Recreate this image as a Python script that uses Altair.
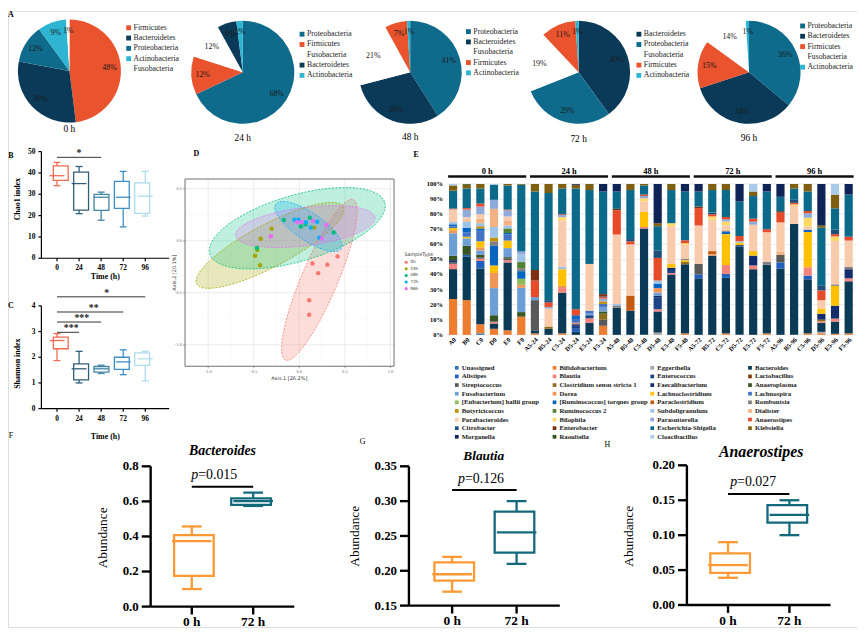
import math
import numpy as np
import pandas as pd
import altair as alt

SERIF = "Liberation Serif"
MARGIN = 8

# ============================ DATA ============================
# --- A: phylum pies
PIE_TITLES = ["0 h", "24 h", "48 h", "72 h", "96 h"]
PIE_ORDER = [
    ["Firmicutes", "Bacteroidetes", "Proteobacteria", "Actinobacteria", "Fusobacteria"],
    ["Proteobacteria", "Firmicutes", "Fusobacteria", "Bacteroidetes", "Actinobacteria"],
    ["Proteobacteria", "Bacteroidetes", "Fusobacteria", "Firmicutes", "Actinobacteria"],
    ["Bacteroidetes", "Proteobacteria", "Fusobacteria", "Firmicutes", "Actinobacteria"],
    ["Proteobacteria", "Bacteroidetes", "Firmicutes", "Fusobacteria", "Actinobacteria"],
]
PIE_PCT = [
    [48, 30, 12, 9, 1],
    [68, 12, 12, 6, 2],
    [41, 30, 21, 7, 1],
    [40, 29, 19, 11, 1],
    [36, 34, 15, 14, 1],
]
PHYLA = ["Firmicutes", "Bacteroidetes", "Proteobacteria", "Actinobacteria", "Fusobacteria"]
PHYLA_COLORS = ["#e9532d", "#0b3a58", "#0f6b8c", "#2fb4d2", "#ffffff"]

# --- B / C: alpha diversity
TIMES = [0, 24, 48, 72, 96]
CHAO_MIN = [34.0, 20.9, 17.8, 14.7, 19.8]
CHAO_Q1 = [36.5, 22.6, 22.4, 23.4, 21.0]
CHAO_MED = [38.7, 35.0, 28.6, 28.6, 29.1]
CHAO_Q3 = [43.3, 40.4, 29.9, 36.0, 35.3]
CHAO_MAX = [44.9, 43.0, 31.0, 40.7, 40.7]
SHAN_MIN = [1.87, 1.00, 1.37, 1.32, 1.08]
SHAN_Q1 = [2.33, 1.12, 1.42, 1.53, 1.68]
SHAN_MED = [2.65, 1.55, 1.55, 1.82, 1.94]
SHAN_Q3 = [2.78, 1.74, 1.64, 2.00, 2.17]
SHAN_MAX = [2.92, 2.23, 1.69, 2.29, 2.23]
BC_COLORS = ["#f26a4f", "#2e5f79", "#3f85a3", "#3c8ec6", "#aedcec"]
CHAO_SIG = {"x1": [0], "x2": [48], "y": [47.3], "star": ["*"], "sx": [24]}
SHAN_SIG = {"x1": [0, 0, 0, 0], "x2": [24, 48, 72, 96], "y": [2.97, 3.37, 3.76, 4.35],
            "star": ["***", "***", "**", "*"], "sx": [15.5, 27, 40, 54]}

# --- D: PCoA
D_GROUPS = ["0h", "24h", "48h", "72h", "96h"]
D_COLORS = ["#F8766D", "#A3A500", "#00BF7D", "#00B0F6", "#E76BF3"]
PC_X = {
    "0h": [0.42, 0.145, 0.308, 0.207, 0.109, 0.109],
    "24h": [-0.304, -0.424, 0.163, -0.486, -0.431, -0.46],
    "48h": [-0.464, -0.170, 0.018, 0.377, 0.116, 0.069],
    "72h": [-0.054, -0.011, 0.072, 0.127, 0.196, 0.221],
    "96h": [-0.025, 0.025, 0.152, 0.297, 0.246, -0.312],
}
PC_Y = {
    "0h": [-0.15, -0.219, -0.229, -0.311, -0.571, -0.711],
    "24h": [0.117, 0.019, 0.127, -0.143, -0.235, -0.089],
    "48h": [-0.070, 0.200, 0.137, 0.079, 0.222, 0.159],
    "72h": [0.203, 0.203, 0.178, 0.127, 0.184, 0.029],
    "96h": [0.181, 0.181, 0.190, 0.152, 0.022, 0.044],
}
# confidence ellipses: centre and two conjugate semi-axes (data units)
ELL_C = [(0.221, -0.375), (-0.322, -0.044), (-0.022, 0.121), (0.101, 0.137), (0.065, 0.137)]
ELL_U = [(0.373, 0.771), (0.804, 0.371), (0.96, 0.246), (0.359, -0.214), (0.764, 0.087)]
ELL_V = [(0.183, -0.068), (0.109, -0.181), (0.101, -0.305), (-0.0855, -0.110), (0.027, -0.182)]

# --- E: genus composition
GENERA = ["Unassigned", "Bifidobacterium", "Eggerthella", "Bacteroides", "Alistipes", "Blautia",
          "Enterococcus", "Lactobacillus", "Streptococcus", "Clostridium sensu stricto 1",
          "Faecalibacterium", "Anaeroplasma", "Fusobacterium", "Dorea", "Lachnoclostridium",
          "Lachnospira", "[Eubacterium] hallii group", "[Ruminococcus] torques group",
          "Paraclostridium", "Romboutsia", "Butyricicoccus", "Ruminococcus 2", "Subdoligranulum",
          "Dialister", "Parabacteroides", "Bilophila", "Parasutterella", "Anaerostipes",
          "Citrobacter", "Enterobacter", "Escherichia-Shigella", "Klebsiella", "Morganella",
          "Raoultella", "Cloacibacillus"]
CODES = ["UN", "BI", "EG", "BA", "AL", "BL", "EN", "LA", "ST", "CL", "FA", "AP", "FU", "DO", "LC",
         "LS", "EU", "RT", "PC", "RO", "BU", "R2", "SU", "DI", "PB", "BP", "PS", "AN", "CI", "EB",
         "ES", "KL", "MO", "RA", "CB"]
GEN_COLORS = ["#2e75b6", "#ed7d31", "#a5a5a5", "#0b3a56", "#1f5fbf", "#f4837d", "#1c4587",
              "#843c0c", "#595959", "#8c6d1f", "#132c6b", "#375623", "#6d9fd6", "#f0955a",
              "#ffc000", "#4472c4", "#8fbc5a", "#0563c1", "#c55a11", "#7f7f7f", "#bf9000",
              "#548235", "#9dc3e6", "#f4b183", "#f8cbad", "#ffd966", "#8eaadb", "#e84b2a",
              "#1f4e79", "#7b3012", "#0b6a8a", "#7f5f12", "#0e2356", "#2d5016", "#a9cbe8"]

COMP_0H = {
    "A0": {"BI": 24, "BA": 20, "BL": 3.5, "ST": 1, "FA": 1.5, "AP": 3, "FU": 15, "DO": 2, "LC": 1.5,
           "RT": 1.5, "LS": 1, "SU": 1.5, "DI": 0.5, "PB": 8, "AN": 0.5, "ES": 12, "KL": 3.5, "CB": 1},
    "B0": {"BI": 23, "BA": 29, "AL": 1, "AP": 6, "FU": 5, "LC": 1, "LS": 3, "RT": 3, "SU": 4, "DI": 1,
           "PB": 2, "PS": 5, "AN": 1, "ES": 13, "KL": 2.5, "RA": 0.5},
    "C0": {"UN": 1, "BI": 6, "BA": 37, "AL": 5, "BL": 1.5, "ST": 1, "AP": 1.5, "FU": 3, "DO": 2,
           "LC": 4, "LS": 7, "RT": 1.5, "BU": 1.5, "SU": 2, "DI": 3, "PB": 3, "PS": 5, "AN": 2,
           "ES": 10, "KL": 3},
    "D0": {"BI": 4, "BA": 3.5, "BL": 1, "ST": 0.5, "AP": 4, "FU": 18, "DO": 10, "LC": 5, "RO": 3,
           "RT": 13, "BU": 2.5, "SU": 7, "DI": 12, "PS": 6, "ES": 10, "CB": 0.5},
    "E0": {"BI": 3, "BA": 45, "BL": 1.5, "ST": 1, "AP": 1, "FU": 6, "LC": 5, "LS": 4, "RT": 1,
           "R2": 3, "SU": 2, "DI": 3, "PB": 3, "PS": 4, "AN": 0.5, "ES": 16, "KL": 1},
    "F0": {"BI": 12, "AP": 3, "FU": 16, "DO": 2, "RO": 2, "EU": 4, "RT": 5, "R2": 4, "SU": 5,
           "PS": 2, "ES": 44, "KL": 0.5},
}
COMP_24H = {
    "A5-24": {"BI": 1, "BA": 2, "ST": 20, "FU": 2, "AN": 11, "EB": 7, "ES": 52, "KL": 5},
    "B5-24": {"BA": 4, "CL": 1.5, "PB": 12, "PS": 1, "AN": 3, "CI": 1.5, "ES": 71, "KL": 6},
    "C5-24": {"BI": 1, "BA": 27, "BL": 3, "DO": 1.5, "LC": 11, "SU": 1.5, "PB": 31, "BP": 2,
              "PS": 1.5, "AN": 0.5, "ES": 17, "KL": 3},
    "D5-24": {"BA": 2, "AL": 2, "DO": 1, "EN": 2, "RT": 3, "FA": 1, "LS": 2, "AN": 4, "ES": 80,
              "KL": 2.5, "MO": 0.5},
    "E5-24": {"BA": 8, "BL": 3, "EN": 2, "FU": 1.5, "LS": 1.5, "PB": 31, "ES": 49, "KL": 4},
    "F5-24": {"BI": 6, "ST": 4, "CL": 4, "AP": 1.5, "FU": 3, "LS": 2, "PS": 2, "BU": 1.5, "AN": 1,
              "CI": 0.5, "EB": 1.5, "ES": 68, "MO": 5},
}
COMP_48H = {
    "A5-48": {"BA": 18, "RO": 1.5, "SU": 1, "PB": 46, "AN": 16, "EB": 1, "ES": 11.5, "MO": 5},
    "B5-48": {"BA": 16, "PC": 10, "PB": 34, "AN": 2, "CI": 1.5, "ES": 32.5, "KL": 4},
    "C5-48": {"BA": 70.5, "BL": 1, "LC": 10, "PB": 7, "BP": 2, "PS": 1.5, "AN": 1, "ES": 6, "KL": 1},
    "D5-48": {"EG": 1.5, "BA": 14, "BL": 1.5, "EN": 8, "FA": 1, "FU": 2, "DO": 3, "RT": 3, "SU": 2,
              "AN": 15, "CI": 5, "ES": 16, "KL": 2, "MO": 26},
    "E5-48": {"BA": 40, "BL": 1, "EN": 2, "FA": 1.5, "LC": 2.5, "PB": 25, "BP": 2, "ES": 22, "KL": 4},
    "F5-48": {"BI": 1, "BA": 46, "CL": 1.5, "RO": 1, "LC": 1, "PB": 9.5, "BP": 1, "AN": 2,
              "ES": 32.5, "MO": 5},
}
COMP_72H = {
    "A5-72": {"BA": 37.5, "AL": 2.5, "ST": 7, "PB": 25.5, "AN": 11.5, "EB": 1, "ES": 10, "MO": 5},
    "B5-72": {"BA": 52.5, "PC": 2, "DO": 1, "PB": 21, "BP": 2, "AN": 1.5, "CI": 1, "ES": 15, "KL": 4},
    "C5-72": {"BI": 1, "BA": 37, "AL": 2.5, "BL": 6, "RT": 2, "LC": 20.5, "DI": 1, "PB": 3, "BP": 2.5,
              "PS": 1.5, "AN": 1.5, "ES": 18, "KL": 4},
    "D5-72": {"BA": 58.5, "EN": 1, "LC": 1.5, "SU": 1, "AN": 3.5, "ES": 23, "MO": 11.5},
    "E5-72": {"BA": 43.5, "BL": 2.5, "FA": 6.5, "LC": 3, "PB": 17.5, "PS": 2, "AN": 2, "ES": 15,
              "KL": 3, "CB": 5},
    "F5-72": {"BI": 1, "BA": 45.5, "RO": 2, "PB": 19.5, "AN": 2, "ES": 25, "MO": 5},
}
COMP_96H = {
    "A5-96": {"BA": 44, "AL": 4, "ST": 5, "DI": 2, "PB": 19.5, "AN": 6.5, "EB": 1, "ES": 9.5, "MO": 8.5},
    "B5-96": {"BA": 73.5, "PB": 12, "BP": 1, "AN": 1, "CI": 2, "ES": 7.5, "KL": 3},
    "C5-96": {"BI": 1, "BA": 36, "AL": 2.5, "BL": 5.5, "RT": 1.5, "LC": 23.5, "PB": 2, "BP": 6,
              "PS": 3, "AN": 1.5, "ES": 13, "KL": 5},
    "D5-96": {"BI": 1, "EG": 1, "BA": 6, "BL": 1, "FA": 4, "CL": 1, "LC": 3.5, "PB": 5.5, "AN": 6.5,
              "CI": 3, "ES": 38.5, "KL": 1.5, "MO": 27.5},
    "E5-96": {"BI": 0.7, "BA": 8, "BL": 2, "FA": 8.5, "LC": 13, "RO": 1, "PB": 28.5, "BP": 3,
              "AN": 1.5, "CI": 3, "ES": 14, "KL": 9, "CB": 7},
    "F5-96": {"BI": 1, "BA": 34.5, "BL": 2, "FA": 6, "RO": 1.5, "PB": 17.5, "AN": 2.5, "ES": 28, "MO": 7},
}
E_GROUPS = ["0 h", "24 h", "48 h", "72 h", "96 h"]
E_COMPS = [COMP_0H, COMP_24H, COMP_48H, COMP_72H, COMP_96H]

# --- F / G / H: genus abundance boxes  [min, q1, median, q3, max]
FGH_TITLES = ["Bacteroides", "Blautia", "Anaerostipes"]
FGH_GROUPS = ["0 h", "72 h"]
FGH_STATS = [
    [[0.100, 0.175, 0.373, 0.407, 0.457], [0.574, 0.580, 0.602, 0.617, 0.650]],
    [[0.170, 0.186, 0.195, 0.212, 0.220], [0.210, 0.226, 0.255, 0.285, 0.300]],
    [[0.039, 0.046, 0.057, 0.074, 0.090], [0.100, 0.118, 0.129, 0.143, 0.150]],
]
FGH_P = ["=0.015", "=0.126", "=0.027"]
FGH_PLINE = [0.684, 0.316, 0.159]
FGH_TICKS = [[0.0, 0.2, 0.4, 0.6, 0.8], [0.15, 0.20, 0.25, 0.30, 0.35], [0.00, 0.05, 0.10, 0.15, 0.20]]
FGH_TICKLAB = [["0.0", "0.2", "0.4", "0.6", "0.8"], ["0.15", "0.20", "0.25", "0.30", "0.35"],
               ["0.00", "0.05", "0.10", "0.15", "0.20"]]
FGH_COLORS = ["#ff9933", "#13697c"]


# ============================ HELPERS ============================
def P(v):
    return v - MARGIN


def qs(domain, r0, r1):
    return alt.Scale(domain=list(domain), range=[P(r0), P(r1)], nice=False, zero=False)


def fx(field, sc):
    return alt.X(field, scale=sc, axis=None)


def fy(field, sc, **kw):
    return alt.Y(field, scale=sc, axis=None, **kw)


def dx_(v, sc):
    return alt.XDatum(v, type="quantitative", scale=sc, axis=None)


def dy_(v, sc):
    return alt.YDatum(v, type="quantitative", scale=sc, axis=None)


ONE = pd.DataFrame({"k": [0]})


def note(text, x, y, xs, ys, **kw):
    kw.setdefault("font", SERIF)
    kw.setdefault("color", "black")
    return alt.Chart(ONE).mark_text(text=text, **kw).encode(x=dx_(x, xs), y=dy_(y, ys))


def vline(x, y0, y1, xs, ys, **kw):
    return alt.Chart(ONE).mark_rule(**kw).encode(x=dx_(x, xs), y=dy_(y0, ys), y2=alt.Y2Datum(y1))


def hline(y, x0, x1, xs, ys, **kw):
    return alt.Chart(ONE).mark_rule(**kw).encode(y=dy_(y, ys), x=dx_(x0, xs), x2=alt.X2Datum(x1))


def left_axis(xs, ys, x0, ticks, labels, sw, tlen, size, gap, color="black", weight="bold", line=True):
    d = pd.DataFrame({"v": ticks, "lab": labels})
    out = []
    if line:
        out.append(vline(x0, ticks[0], ticks[-1], xs, ys, color=color, strokeWidth=sw))
    out.append(alt.Chart(d).mark_rule(color=color, strokeWidth=sw, x2Offset=-tlen).encode(
        x=dx_(x0, xs), x2=alt.X2Datum(x0), y=fy("v:Q", ys)))
    out.append(alt.Chart(d).mark_text(font=SERIF, fontSize=size, fontWeight=weight, align="right",
                                      baseline="middle", dx=-gap, color=color).encode(
        x=dx_(x0, xs), y=fy("v:Q", ys), text="lab:N"))
    return out


def bottom_axis(xs, ys, y0, x0, x1, ticks, labels, sw, tlen, size, gap, color="black",
                weight="bold", line=True, baseline="top"):
    d = pd.DataFrame({"v": ticks, "lab": labels})
    out = []
    if line:
        out.append(hline(y0, x0, x1, xs, ys, color=color, strokeWidth=sw))
    out.append(alt.Chart(d).mark_rule(color=color, strokeWidth=sw, y2Offset=tlen).encode(
        y=dy_(y0, ys), y2=alt.Y2Datum(y0), x=fx("v:Q", xs)))
    out.append(alt.Chart(d).mark_text(font=SERIF, fontSize=size, fontWeight=weight, align="center",
                                      baseline=baseline, dy=gap, color=color).encode(
        y=dy_(y0, ys), x=fx("v:Q", xs), text="lab:N"))
    return out


def boxes(df, xs, ys, cs, box_w, cap_w, sw):
    b = alt.Chart(df)
    X = fx("x:Q", xs)
    col = alt.Color("g:N", scale=cs, legend=None)
    return [
        b.mark_rule(strokeWidth=sw, opacity=1).encode(x=X, y=fy("lo:Q", ys), y2="hi:Q", color=col),
        b.mark_bar(size=box_w, fill="white", strokeWidth=sw, opacity=1).encode(
            x=X, y=fy("q1:Q", ys), y2="q3:Q", stroke=alt.Stroke("g:N", scale=cs, legend=None)),
        b.mark_tick(orient="horizontal", size=box_w, thickness=sw, opacity=1).encode(
            x=X, y=fy("med:Q", ys), color=col),
        b.mark_tick(orient="horizontal", size=cap_w, thickness=sw, opacity=1).encode(
            x=X, y=fy("lo:Q", ys), color=col),
        b.mark_tick(orient="horizontal", size=cap_w, thickness=sw, opacity=1).encode(
            x=X, y=fy("hi:Q", ys), color=col),
    ]


layers = []

# ============================ A: pies ============================
PIE_CX = [70, 245, 414, 584, 756]
PIE_CY = [68.7, 70, 70, 70, 70]
PIE_R = 52
PIE_LEG_X = [1.15, 1.15, 1.13, 1.17, 1.04]
PIE_LEG_TOP = [0.84, 0.74, 0.79, 0.74, 0.90]
PIE_TITLE_Y = [-1.12, -1.28, -1.25, -1.30, -1.27]

for i in range(5):
    cx, cy, r = PIE_CX[i], PIE_CY[i], PIE_R
    xs = qs([-1, 1], cx - r, cx + r)
    ys = qs([-1, 1], cy + r, cy - r)
    cs = alt.Scale(domain=PHYLA, range=PHYLA_COLORS)
    df = pd.DataFrame({"phylum": PIE_ORDER[i], "pct": PIE_PCT[i], "ord": list(range(5))})
    base = alt.Chart(df)
    layers.append(base.mark_arc(radius=r, opacity=1).encode(
        theta=alt.Theta("pct:Q", stack=True),
        color=alt.Color("phylum:N", scale=cs, legend=None),
        order=alt.Order("ord:Q", sort="ascending"),
        x=dx_(0, xs), y=dy_(0, ys)))
    layers.append(
        base.transform_window(cum="sum(pct)", sort=[alt.SortField("ord", order="ascending")],
                              frame=[None, 0])
        .transform_joinaggregate(tot="sum(pct)")
        .transform_calculate(mid="2*PI*(datum.cum - datum.pct/2)/datum.tot",
                             lx="0.78*sin(datum.mid)", ly="0.78*cos(datum.mid)",
                             lab="datum.pct + '%'")
        .mark_text(font=SERIF, fontSize=8, color="#1a1a1a")
        .encode(x=fx("lx:Q", xs), y=fy("ly:Q", ys), text="lab:N"))
    leg = base.transform_calculate(ly=f"{PIE_LEG_TOP[i]} - 0.2*datum.ord")
    layers.append(leg.mark_square(size=24, opacity=1).encode(
        x=dx_(PIE_LEG_X[i], xs), y=fy("ly:Q", ys), color=alt.Color("phylum:N", scale=cs, legend=None)))
    layers.append(leg.mark_text(font=SERIF, fontSize=7.8, align="left", baseline="middle", dx=5,
                                color="#222222").encode(x=dx_(PIE_LEG_X[i], xs), y=fy("ly:Q", ys),
                                                        text="phylum:N"))
    layers.append(note(PIE_TITLES[i], 0, PIE_TITLE_Y[i], xs, ys, fontSize=9.5, baseline="middle"))
    if i == 0:
        layers.append(note("A", -1.135, 1.09, xs, ys, fontSize=8, fontWeight="bold", baseline="middle"))

# ============================ B / C ============================
xs_bc = qs([-17, 122], 41.7, 170.7)
ys_b = qs([0, 50], 257.7, 150)
ys_c = qs([0, 4], 409.5, 305.7)
cs_bc = alt.Scale(domain=[str(t) for t in TIMES], range=BC_COLORS)

for ys, lo, q1, med, q3, hi, ticks, sig, ytitle, ytitle_y, xtitle_y, letter, letter_y in [
    (ys_b, CHAO_MIN, CHAO_Q1, CHAO_MED, CHAO_Q3, CHAO_MAX, [0, 10, 20, 30, 40, 50], CHAO_SIG,
     "Chao1 index", 27.7, -8.6, "B", 47.7),
    (ys_c, SHAN_MIN, SHAN_Q1, SHAN_MED, SHAN_Q3, SHAN_MAX, [0, 1, 2, 3, 4], SHAN_SIG,
     "Shannon index", 1.75, -1.12, "C", 3.98),
]:
    df = pd.DataFrame({"x": TIMES, "lo": lo, "q1": q1, "med": med, "q3": q3, "hi": hi,
                       "g": [str(t) for t in TIMES]})
    layers += boxes(df, xs_bc, ys, cs_bc, 15, 7, 1.3)
    layers += left_axis(xs_bc, ys, -17, ticks, [str(t) for t in ticks], 1.2, 3, 7.5, 6)
    layers += bottom_axis(xs_bc, ys, 0, -17, 122, TIMES, [str(t) for t in TIMES], 1.2, 3, 7.5, 6)
    sd = pd.DataFrame(sig)
    layers.append(alt.Chart(sd).mark_rule(color="#333333", strokeWidth=1).encode(
        x=fx("x1:Q", xs_bc), x2="x2:Q", y=fy("y:Q", ys)))
    layers.append(alt.Chart(sd).mark_text(font=SERIF, fontSize=10, fontWeight="bold",
                                          baseline="middle", dy=-4, color="#222222").encode(
        x=fx("sx:Q", xs_bc), y=fy("y:Q", ys), text="star:N"))
    layers.append(note(ytitle, -42.5, ytitle_y, xs_bc, ys, fontSize=8, fontWeight="bold",
                       angle=270, baseline="middle"))
    layers.append(note("Time (h)", 52.5, xtitle_y, xs_bc, ys, fontSize=8, fontWeight="bold",
                       baseline="middle"))
    layers.append(note(letter, -50.1, letter_y, xs_bc, ys, fontSize=8, fontWeight="bold",
                       baseline="middle"))

# ============================ D: PCoA ============================
XD = [-1.254, 1.04]
YD = [-1.206, 0.594]
xs_d = qs(XD, 186.7, 397.7)
ys_d = qs(YD, 366.7, 177.7)
cs_d = alt.Scale(domain=D_GROUPS, range=D_COLORS)
GRID_MAJ_X = [-1.0, -0.5, 0.0, 0.5, 1.0]
GRID_MAJ_Y = [-1.0, -0.5, 0.0, 0.5]
GRID_MIN_X = [-0.75, -0.25, 0.25, 0.75]
GRID_MIN_Y = [-0.75, -0.25, 0.25]

for vals, col, w in [(GRID_MIN_X, "#f2f2f2", 0.4), (GRID_MAJ_X, "#e3e3e3", 0.7)]:
    layers.append(alt.Chart(pd.DataFrame({"v": vals})).mark_rule(color=col, strokeWidth=w).encode(
        x=fx("v:Q", xs_d), y=dy_(YD[0], ys_d), y2=alt.Y2Datum(YD[1])))
for vals, col, w in [(GRID_MIN_Y, "#f2f2f2", 0.4), (GRID_MAJ_Y, "#e3e3e3", 0.7)]:
    layers.append(alt.Chart(pd.DataFrame({"v": vals})).mark_rule(color=col, strokeWidth=w).encode(
        y=fy("v:Q", ys_d), x=dx_(XD[0], xs_d), x2=alt.X2Datum(XD[1])))

band_rows, line_rows = [], []
for g, c, u, v in zip(D_GROUPS, ELL_C, ELL_U, ELL_V):
    R = math.hypot(u[0], v[0])
    phi = math.atan2(v[0], u[0])
    for s in np.linspace(0, np.pi, 90):
        ya = c[1] + u[1] * math.cos(phi + s) + v[1] * math.sin(phi + s)
        yb = c[1] + u[1] * math.cos(phi - s) + v[1] * math.sin(phi - s)
        band_rows.append({"g": g, "x": c[0] + R * math.cos(s), "lo": min(ya, yb), "hi": max(ya, yb)})
    for k, t in enumerate(np.linspace(0, 2 * np.pi, 160)):
        line_rows.append({"g": g, "k": k,
                          "x": c[0] + u[0] * math.cos(t) + v[0] * math.sin(t),
                          "y": c[1] + u[1] * math.cos(t) + v[1] * math.sin(t)})
layers.append(alt.Chart(pd.DataFrame(band_rows)).mark_area(fillOpacity=0.25, opacity=1).encode(
    x=fx("x:Q", xs_d), y=fy("lo:Q", ys_d, stack=None), y2="hi:Q",
    color=alt.Color("g:N", scale=cs_d, legend=None)))
layers.append(alt.Chart(pd.DataFrame(line_rows)).mark_line(strokeDash=[2, 1.5], strokeWidth=0.8).encode(
    x=fx("x:Q", xs_d), y=fy("y:Q", ys_d), order="k:Q",
    color=alt.Color("g:N", scale=cs_d, legend=None)))
pts = pd.DataFrame([{"g": g, "x": x, "y": y} for g in D_GROUPS for x, y in zip(PC_X[g], PC_Y[g])])
layers.append(alt.Chart(pts).mark_circle(size=20, opacity=1).encode(
    x=fx("x:Q", xs_d), y=fy("y:Q", ys_d), color=alt.Color("g:N", scale=cs_d, legend=None)))
for xv in XD:
    layers.append(vline(xv, YD[0], YD[1], xs_d, ys_d, color="#6e6e6e", strokeWidth=1))
for yv in YD:
    layers.append(hline(yv, XD[0], XD[1], xs_d, ys_d, color="#6e6e6e", strokeWidth=1))
layers += left_axis(xs_d, ys_d, XD[0], GRID_MAJ_Y, ["-1.0", "-0.5", "0.0", "0.5"], 0.6, 2, 4.5, 3,
                    color="#666666", weight="normal", line=False)
layers += bottom_axis(xs_d, ys_d, YD[0], XD[0], XD[1], GRID_MAJ_X, ["-1.0", "-0.5", "0.0", "0.5", "1.0"],
                      0.6, 2, 4.5, 2.5, color="#666666", weight="normal", line=False)
layers.append(note("Axis.1  [26.2%]", -0.11, -1.32, xs_d, ys_d, fontSize=5, baseline="middle",
                   font="DejaVu Sans", color="#333333"))
layers.append(note("Axis.2  [20.1%]", -1.37, -0.306, xs_d, ys_d, fontSize=5, baseline="middle",
                   angle=270, font="DejaVu Sans", color="#333333"))
layers.append(note("SampleType", 1.155, -0.133, xs_d, ys_d, fontSize=4.8, align="left",
                   baseline="middle", font="DejaVu Sans", color="#333333"))
dleg = pd.DataFrame({"g": D_GROUPS, "i": list(range(5))}).assign(ly=lambda d: -0.206 - 0.0635 * d.i)
layers.append(alt.Chart(dleg).mark_circle(size=10, opacity=1).encode(
    x=dx_(1.173, xs_d), y=fy("ly:Q", ys_d), color=alt.Color("g:N", scale=cs_d, legend=None)))
layers.append(alt.Chart(dleg).mark_text(font="DejaVu Sans", fontSize=4.3, align="left",
                                        baseline="middle", color="#333333").encode(
    x=dx_(1.217, xs_d), y=fy("ly:Q", ys_d), text="g:N"))
layers.append(note("D", -1.131, 0.839, xs_d, ys_d, fontSize=8, fontWeight="bold", baseline="middle"))

# ============================ E: stacked composition ============================
SAMPLES = [s for comp in E_COMPS for s in comp]
rows = []
for comp in E_COMPS:
    for s, parts in comp.items():
        for code, v in parts.items():
            j = CODES.index(code)
            rows.append({"sample": s, "genus": GENERA[j], "pct": v, "ord": j})
edf = pd.DataFrame(rows)
xs_eb = alt.Scale(domain=SAMPLES, range=[P(449), P(864.85)], paddingInner=0.4, paddingOuter=0.3)
xs_e = qs([0, 29], 457.26, 856.6)
ys_e = qs([0, 1], 335, 182.7)
cs_e = alt.Scale(domain=GENERA, range=GEN_COLORS)

E_TICKS = [round(0.1 * k, 1) for k in range(11)]
layers.append(alt.Chart(pd.DataFrame({"v": E_TICKS})).mark_rule(color="#dcdcdc", strokeWidth=0.6).encode(
    y=fy("v:Q", ys_e), x=dx_(-0.45, xs_e), x2=alt.X2Datum(29.45)))
layers.append(alt.Chart(edf).mark_bar(opacity=1).encode(
    x=alt.X("sample:N", scale=xs_eb, axis=None),
    y=alt.Y("pct:Q", stack="normalize", scale=ys_e, axis=None),
    color=alt.Color("genus:N", scale=cs_e, legend=None),
    order=alt.Order("ord:Q", sort="ascending")))
layers.append(alt.Chart(pd.DataFrame({"v": E_TICKS, "lab": [f"{int(round(v * 100))}%" for v in E_TICKS]}))
              .mark_text(font=SERIF, fontSize=6.5, fontWeight="bold", align="right", baseline="middle")
              .encode(x=dx_(-0.75, xs_e), y=fy("v:Q", ys_e), text="lab:N"))
layers.append(alt.Chart(pd.DataFrame({"s": SAMPLES, "i": list(range(len(SAMPLES)))}))
              .mark_text(font=SERIF, fontSize=6.5, fontWeight="bold", angle=315, align="right",
                         baseline="middle", yOffset=4, xOffset=2)
              .encode(x=fx("i:Q", xs_e), y=dy_(0, ys_e), text="s:N"))
gdf = pd.DataFrame({"lab": E_GROUPS, "i0": [6 * k for k in range(5)], "i1": [6 * k + 5 for k in range(5)]})
layers.append(alt.Chart(gdf).mark_rule(strokeWidth=2.5, color="#111111", xOffset=-5, x2Offset=5).encode(
    x=fx("i0:Q", xs_e), x2="i1:Q", y=dy_(1.05, ys_e)))
layers.append(alt.Chart(gdf).transform_calculate(mid="(datum.i0 + datum.i1)/2")
              .mark_text(font=SERIF, fontSize=8.5, fontWeight="bold", baseline="middle")
              .encode(x=fx("mid:Q", xs_e), y=dy_(1.088, ys_e), text="lab:N"))
layers.append(note("E", -2.7, 1.195, xs_e, ys_e, fontSize=8, fontWeight="bold", baseline="middle"))

xs_leg = qs([0, 3], 461, 757)
ys_leg = qs([0, 8], 368.3, 437.9)
ldf = pd.DataFrame({"genus": GENERA, "col": [k % 4 for k in range(len(GENERA))],
                    "row": [k // 4 for k in range(len(GENERA))]})
layers.append(alt.Chart(ldf).mark_square(size=14, opacity=1).encode(
    x=fx("col:Q", xs_leg), y=fy("row:Q", ys_leg), color=alt.Color("genus:N", scale=cs_e, legend=None)))
layers.append(alt.Chart(ldf).mark_text(font=SERIF, fontSize=6.8, fontWeight="bold", align="left",
                                       baseline="middle", dx=5, color="#1a1a1a").encode(
    x=fx("col:Q", xs_leg), y=fy("row:Q", ys_leg), text="genus:N"))

# ============================ F / G / H ============================
SHIFT = -5
FGH_X = [(152, 297), (412.7, 565), (693.3, 838.3)]
FGH_Y = [(614.3, 472.7), (613.3, 472.7), (612.7, 471.7)]
FGH_PX = [0.105, 0.20, 0.148]
FGH_PY = [0.725, 0.3254, 0.170]
FGH_TITLE_XY = [(0.5, 0.862), (0.49, 0.3595), (0.54, 0.212)]
FGH_TITLE_SIZE = [14, 13.5, 16]
FGH_YTITLE_XY = [(-1.444, 0.392), (-1.507, 0.2496), (-1.61, 0.0984)]
FGH_LETTER = [("F", -2.944, 0.973), ("G", -1.388, 0.385), ("H", -1.965, 0.229)]
cs_fgh = alt.Scale(domain=FGH_GROUPS, range=FGH_COLORS)
XF = [-0.67, 1.67]

for k in range(3):
    xs = qs(XF, *FGH_X[k])
    ys = qs([FGH_TICKS[k][0], FGH_TICKS[k][-1]], FGH_Y[k][0] + SHIFT, FGH_Y[k][1] + SHIFT)
    st = FGH_STATS[k]
    df = pd.DataFrame({"x": [0, 1], "g": FGH_GROUPS,
                       "lo": [st[0][0], st[1][0]], "q1": [st[0][1], st[1][1]],
                       "med": [st[0][2], st[1][2]], "q3": [st[0][3], st[1][3]],
                       "hi": [st[0][4], st[1][4]]})
    layers += boxes(df, xs, ys, cs_fgh, 40, 20, 2.3)
    layers += left_axis(xs, ys, XF[0], FGH_TICKS[k], FGH_TICKLAB[k], 2.4, 9, 13, 12)
    layers += bottom_axis(xs, ys, FGH_TICKS[k][0], XF[0], XF[1], [0, 1], FGH_GROUPS, 2.4, 8, 13.5, 20,
                          baseline="alphabetic")
    layers.append(hline(FGH_PLINE[k], 0, 1, xs, ys, color="black", strokeWidth=2))
    layers.append(note("p", FGH_PX[k], FGH_PY[k], xs, ys, fontSize=14, fontStyle="italic",
                       align="right", baseline="alphabetic"))
    layers.append(note(FGH_P[k], FGH_PX[k], FGH_PY[k], xs, ys, fontSize=14, align="left",
                       baseline="alphabetic"))
    tx, ty = FGH_TITLE_XY[k]
    layers.append(note(FGH_TITLES[k], tx, ty, xs, ys, fontSize=FGH_TITLE_SIZE[k], fontWeight="bold",
                       fontStyle="italic", baseline="alphabetic"))
    ax_, ay_ = FGH_YTITLE_XY[k]
    layers.append(note("Abundance", ax_, ay_, xs, ys, fontSize=13.5, angle=270, baseline="middle"))
    lt, lx, ly = FGH_LETTER[k]
    layers.append(note(lt, lx, ly, xs, ys, fontSize=8, baseline="middle"))

chart = (
    alt.layer(*layers)
    .properties(width=857, height=622, autosize=alt.AutoSizeParams(type="none"), padding=0)
    .resolve_scale(x="independent", y="independent", color="independent",
                   stroke="independent", theta="independent")
    .configure_view(stroke=None)
    .configure(background="white")
)
chart.save("out.html", embed_options={"renderer": "svg", "actions": False})
